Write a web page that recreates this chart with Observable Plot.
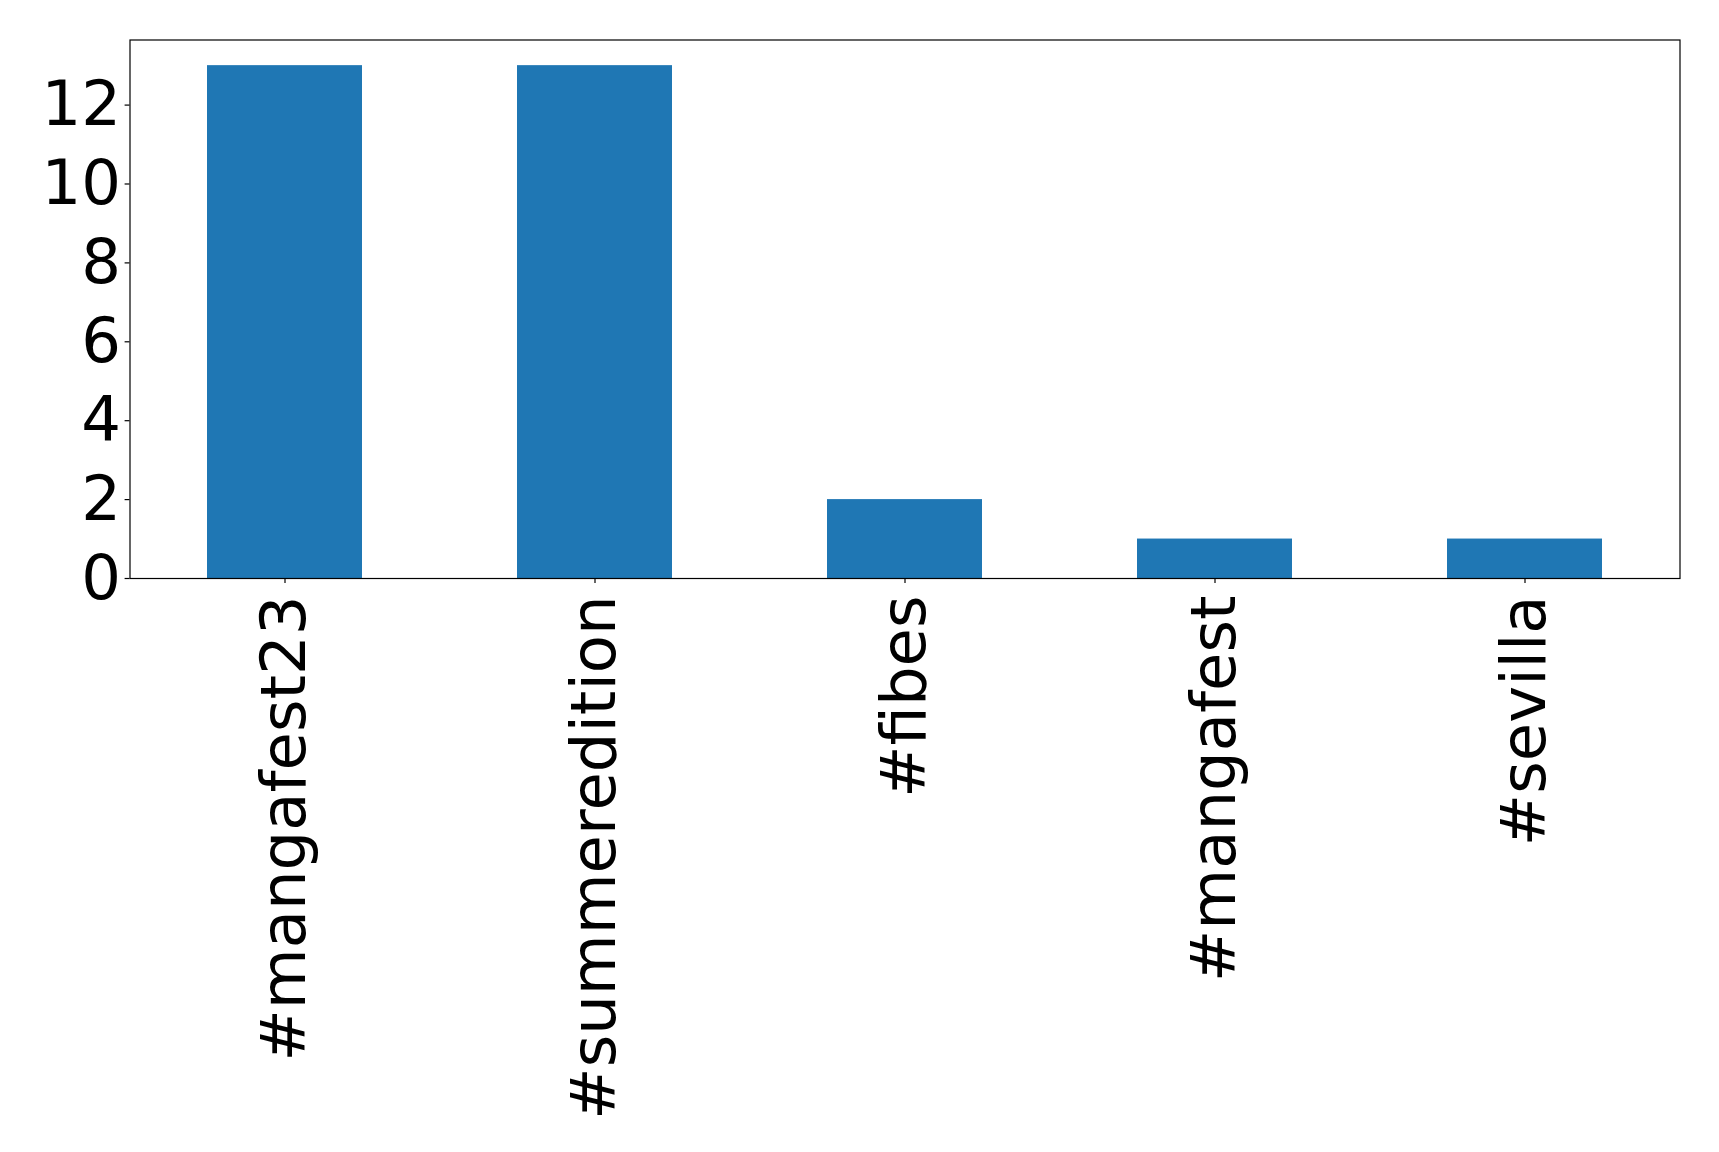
<!DOCTYPE html>
<html>
<head>
<meta charset="utf-8">
<script src="https://cdn.jsdelivr.net/npm/d3@7"></script>
<script src="https://cdn.jsdelivr.net/npm/@observablehq/plot@0.6"></script>
<style>
  html, body { margin: 0; padding: 0; background: #fff; }
  svg { display: block; }
</style>
</head>
<body>
<div id="chart"></div>
<script>
const categories = ["#mangafest23", "#summeredition", "#fibes", "#mangafest", "#sevilla"];
const counts = [13, 13, 2, 1, 1];
const yTicks = [0, 2, 4, 6, 8, 10, 12];

const data = categories.map((c, i) => ({tag: c, count: counts[i]}));

const chart = Plot.plot({
  width: 1719,
  height: 1152,
  marginLeft: 129.5,
  marginRight: 39.5,
  marginTop: 39.5,
  marginBottom: 574,
  style: {fontFamily: "DejaVu Sans", fontSize: "62.5px", color: "black", background: "white"},
  x: {domain: categories, paddingInner: 0.5, paddingOuter: 0.25, label: null},
  y: {domain: [0, 13.65], label: null},
  marks: [
    Plot.barY(data, {x: "tag", y: "count", fill: "#1f77b4"}),
    Plot.frame({stroke: "black", strokeWidth: 1.2}),
    Plot.axisY({ticks: yTicks, tickSize: 4.9, tickPadding: 4, fontSize: 62.5, label: null, stroke: "black", strokeWidth: 1.2}),
    Plot.axisX({tickSize: 4.9, tickPadding: 12, tickRotate: -90, fontSize: 62.5, label: null, stroke: "black", strokeWidth: 1.2})
  ]
});
document.getElementById("chart").appendChild(chart);
</script>
</body>
</html>
